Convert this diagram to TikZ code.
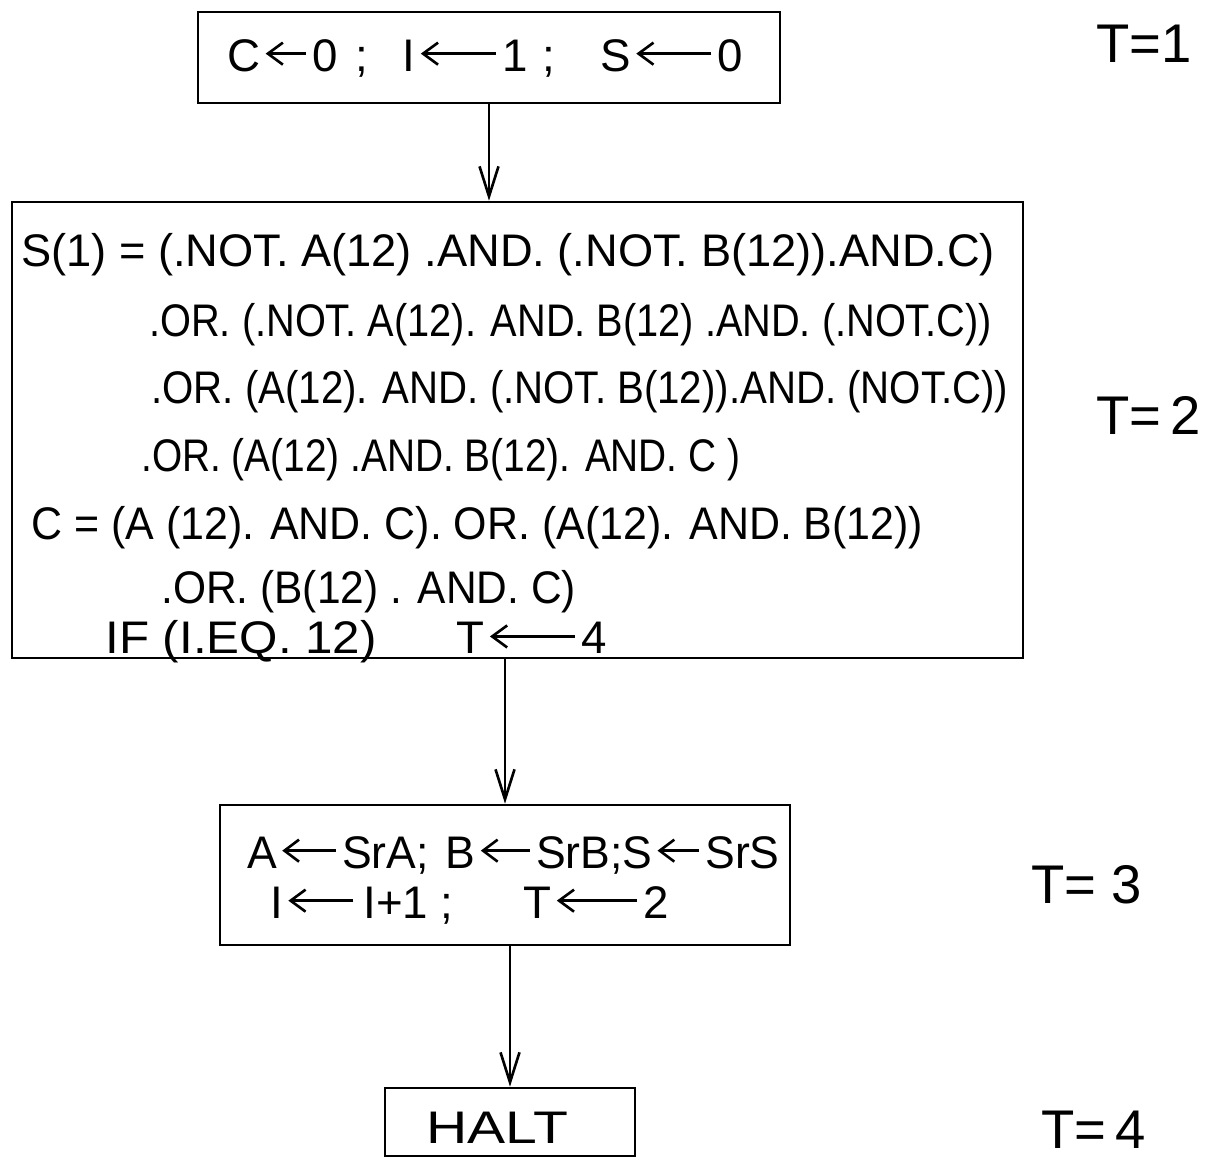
\documentclass[tikz,border=0pt]{standalone}
\usepackage{fontspec}
\setmainfont{Liberation Sans}
\usepackage{graphicx}
\usepackage{tikz}
\usetikzlibrary{arrows.meta}

% hand drawn assignment arrow
\newcommand{\lar}[1][1cm]{\hspace{2pt}\tikz[baseline=-0.72ex]\draw[line width=1.5pt,-{Straight Barb[length=3mm,width=4.4mm]}] (#1,0) -- (0,0);\hspace{3pt}}
\newcommand{\sx}[2]{\scalebox{#1}[1]{#2}}

\begin{document}
\begin{tikzpicture}[x=0.02cm,y=-0.02cm,line width=1.5pt]
	    \tikzstyle{box}=[draw,shape=rectangle,inner sep=0pt]
	    \tikzstyle{line}=[anchor=west,inner sep=0pt,font=\fontsize{26}{30}\selectfont]
	    \tikzstyle{tlab}=[anchor=west,inner sep=0pt,font=\fontsize{31}{35}\selectfont]
	    \tikzstyle{flow}=[-{Straight Barb[length=6mm,width=3.8mm]}]

	    \useasboundingbox (0,0) rectangle (1219,1158);

	    % boxes
	    \node[box,minimum width=11.64cm,minimum height=1.82cm](b1) at (489,57.5){};
	    \node[box,minimum width=20.22cm,minimum height=9.12cm](b2) at (517.5,430){};
	    \node[box,minimum width=11.4cm,minimum height=2.8cm](b3) at (505,875){};
	    \node[box,minimum width=5cm,minimum height=1.36cm](halt) at (510,1122){};

	    % texts
	    \node[line](c1) at (227,58){C\lar[0.8cm]0\hspace{0.35cm};\hspace{0.7cm}I\lar[1.5cm]1\hspace{0.3cm};\hspace{0.9cm}S\lar[1.5cm]0};

	    \node[line](s1) at (20,255){\sx{0.99}{S(1) = (.NOT. A(12) .AND. (.NOT. B(12)).AND.C)}};
	    \node[line](s2) at (148,325){\sx{0.87}{.OR. (.NOT. A(12). AND. B(12) .AND. (.NOT.C))}};
	    \node[line](s3) at (150,392){\sx{0.88}{.OR. (A(12). AND. (.NOT. B(12)).AND. (NOT.C))}};
	    \node[line](s4) at (140,460){\sx{0.85}{.OR. (A(12) .AND. B(12). AND. C )}};
	    \node[line](s5) at (30,528){\sx{0.94}{C = (A (12). AND. C). OR. (A(12). AND. B(12))}};
	    \node[line](s6) at (160,592){\sx{0.93}{.OR. (B(12) . AND. C)}};
	    \node[line](s7) at (105,642){\sx{1.08}{IF (I.EQ. 12)}\hspace{1.6cm}T\lar[1.7cm]4};

	    \node[line](a1) at (247,855){\sx{0.975}{A\lar[1.1cm]SrA;\hspace{0.35cm}B\lar[1cm]SrB;S\lar[0.85cm]SrS}};
	    \node[line](a2) at (270,905){I\lar[1.3cm]\hspace{2pt}I+1 ;\hspace{1.4cm}T\lar[1.6cm]2};

	    \node[line](h) at (425,1128){\sx{1.25}{HALT}};

	    \node[tlab](t1) at (1095,44){T=1};
	    \node[tlab](t2) at (1095,415){T=\,2};
	    \node[tlab](t3) at (1030,885){T=\ 3};
	    \node[tlab](t4) at (1040,1130){T=\,4};

	    % connectors
	    \draw[flow] (b1.south) -- (b1.south |- b2.north);
	    \draw[flow] (b3.north |- b2.south) -- (b3.north);
	    \draw[flow] (halt.north |- b3.south) -- (halt.north);
\end{tikzpicture}
\end{document}
